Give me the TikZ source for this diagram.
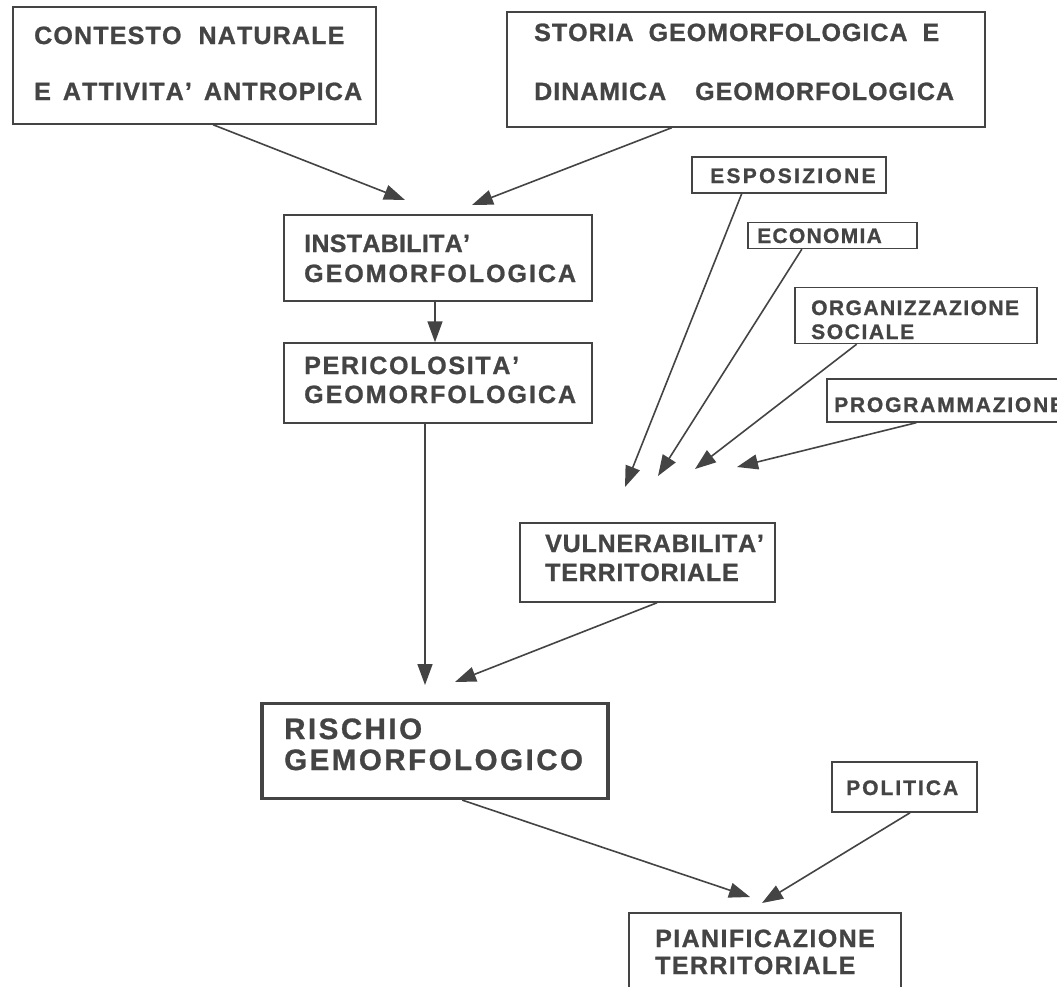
\documentclass[tikz,border=0pt]{standalone}
\usepackage{fontspec}
\setmainfont{Liberation Sans Bold}[FakeBold=1.0]
\usetikzlibrary{arrows.meta,calc}
\definecolor{ink}{RGB}{68,68,68}
\ExplSyntaxOn
\NewDocumentCommand\LS{m m}{ \tl_map_inline:nn {#2} { ##1 \kern #1 } \unkern }
\ExplSyntaxOff
\newcommand\lsv{2.5pt}
\newcommand\W[1]{\LS{\lsv}{#1}}
\tikzset{
  box/.style 2 args={draw=ink, line width=1.5pt, minimum width=#1, minimum height=#2, inner sep=0pt},
  sbox/.style 2 args={draw=ink, line width=1.4pt, minimum width=#1, minimum height=#2, inner sep=0pt},
  big/.style={anchor=base west, inner sep=0pt, text=ink, font=\fontsize{25}{28}\selectfont},
  huge/.style={anchor=base west, inner sep=0pt, text=ink, font=\fontsize{29.5}{32}\selectfont},
  small/.style={anchor=base west, inner sep=0pt, text=ink, font=\fontsize{21}{23}\selectfont},
  ls/.style={execute at begin node={\def\lsv{#1}}},
  arr/.style={draw=ink, line width=1.6pt, -{Triangle[length=21pt,width=15pt]}}
}
\begin{document}
\begin{tikzpicture}[x=1pt,y=-1pt]
\fill[white] (0,0) rectangle (1057,986);
\clip (0,0) rectangle (1057,986);
% boxes
\node[box={363pt}{117pt}] (b1) at (194.5,65.5) {};
\node[box={478pt}{115pt}] (b2) at (746,69.5) {};
\node[box={308pt}{86pt}] (ins) at (438,258) {};
\node[box={308pt}{80pt}] (per) at (438,383) {};
\node[sbox={194pt}{36pt}] (esp) at (789,175) {};
\node[sbox={169pt}{26pt}] (eco) at (832.5,235.5) {};
\node[sbox={242pt}{56pt}] (org) at (916,315.5) {};
\node[sbox={250pt}{43pt}] (prg) at (952,400.5) {};
\node[box={255pt}{79pt}] (vul) at (647.5,562.5) {};
\node[box={346pt}{95pt}, line width=3.2pt] (ris) at (435,751) {};
\node[box={145pt}{50pt}] (pol) at (904.5,787) {};
\node[box={272pt}{100pt}] (pia) at (765,963) {};
% texts
\node[big,ls=1.2pt] (t1a) at (34,44) {\W{CONTESTO}\hspace{17pt}\W{NATURALE}};
\node[big,ls=1.2pt] (t1b) at (34,100) {\W{E}\hspace{12pt}\W{ATTIVITA’}\hspace{12pt}\W{ANTROPICA}};
\node[big,ls=1.0pt] (t2a) at (534,41) {\W{STORIA}\hspace{15pt}\W{GEOMORFOLOGICA}\hspace{15pt}\W{E}};
\node[big,ls=1.0pt] (t2b) at (534,100) {\W{DINAMICA}\hspace{29pt}\W{GEOMORFOLOGICA}};
\node[big,ls=0.3pt] (t3a) at (304,252) {\W{INSTABILITA’}};
\node[big,ls=2.0pt] (t3b) at (304,282) {\W{GEOMORFOLOGICA}};
\node[big,ls=1.7pt] (t4a) at (304,374) {\W{PERICOLOSITA’}};
\node[big,ls=2.0pt] (t4b) at (304,403) {\W{GEOMORFOLOGICA}};
\node[big,ls=0.8pt] (t9a) at (545,552) {\W{VULNERABILITA’}};
\node[big,ls=0.8pt] (t9b) at (545,581) {\W{TERRITORIALE}};
\node[huge,ls=2.5pt] (t10a) at (284,739) {\W{RISCHIO}};
\node[huge,ls=2.5pt] (t10b) at (284,770) {\W{GEMORFOLOGICO}};
\node[big,ls=1.4pt] (t12a) at (655,947) {\W{PIANIFICAZIONE}};
\node[big,ls=1.4pt] (t12b) at (655,974) {\W{TERRITORIALE}};
\node[small,ls=2.3pt] (t5) at (710,183) {\W{ESPOSIZIONE}};
\node[small,ls=1.3pt] (t6) at (757,243) {\W{ECONOMIA}};
\node[small,ls=1.45pt] (t7a) at (811,315) {\W{ORGANIZZAZIONE}};
\node[small,ls=1.6pt] (t7b) at (811,339) {\W{SOCIALE}};
\node[small,ls=1.8pt] (t8) at (834,412) {\W{PROGRAMMAZIONE}};
\node[small,ls=2.0pt] (t11) at (846,795) {\W{POLITICA}};
% free arrow ends
\coordinate (p1) at (405,200);
\coordinate (p2) at (472,205);
\coordinate (p4) at (425,685);
\coordinate (p5) at (625,487);
\coordinate (p6) at (658,476);
\coordinate (p7) at (695,469);
\coordinate (p8) at (737,467);
\coordinate (p9) at (455,682);
\coordinate (p10) at (750,897);
\coordinate (p11) at (762,903);
% connectors
\draw[arr] ($(b1.south west)!0.551!(b1.south east)$) -- (p1);
\draw[arr] ($(b2.south west)!0.345!(b2.south east)$) -- (p2);
\draw[arr] ($(ins.south)+(-3,0)$) -- ($(per.north)+(-3,0)$);
\draw[arr] ($(per.south west)!0.458!(per.south east)$) -- (p4);
\draw[arr] ($(esp.south west)!0.258!(esp.south east)$) -- (p5);
\draw[arr] ($(eco.south west)!0.32!(eco.south east)$) -- (p6);
\draw[arr] ($(org.south west)!0.256!(org.south east)$) -- (p7);
\draw[arr] ($(prg.south west)+(90,0)$) -- (p8);
\draw[arr] ($(vul.south west)!0.537!(vul.south east)$) -- (p9);
\draw[arr] ($(ris.south west)!0.578!(ris.south east)$) -- (p10);
\draw[arr] ($(pol.south west)!0.538!(pol.south east)$) -- (p11);
\end{tikzpicture}
\end{document}
